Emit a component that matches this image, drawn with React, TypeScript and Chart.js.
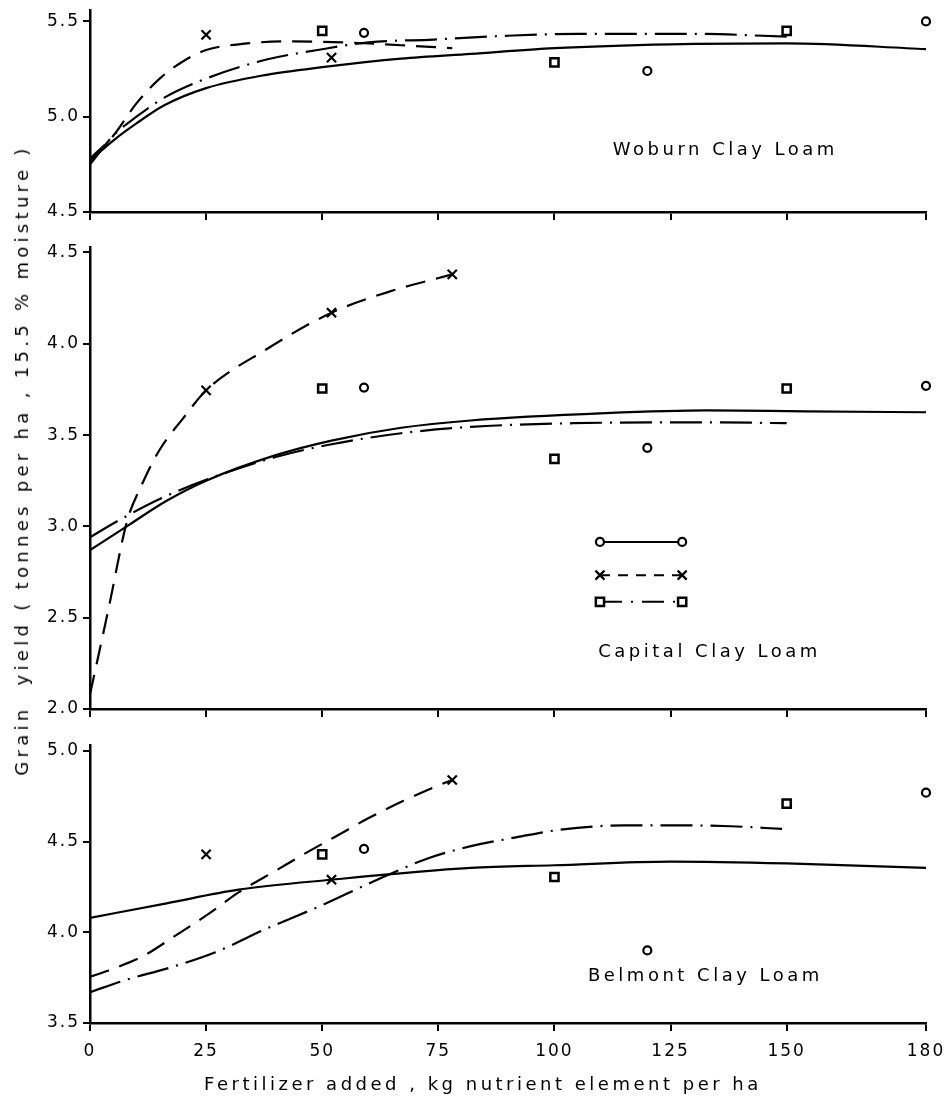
import React, { useEffect, useRef } from "react";
import { Chart, registerables } from "chart.js";
Chart.register(...registerables);

const FONT = '"DejaVu Sans", sans-serif';

// ---------- shared x axis ----------
const X_TICKS = [0, 25, 50, 75, 100, 125, 150, 180];
const X_TICK_LABELS = ["0", "25", "50", "75", "100", "125", "150", "180"];

// ---------- Woburn Clay Loam ----------
const woburnYTicks = [4.5, 5.0, 5.5];
const woburnCircleX = [59, 120, 180];
const woburnCircleY = [5.44, 5.24, 5.5];
const woburnCrossX = [25, 52];
const woburnCrossY = [5.43, 5.31];
const woburnSquareX = [50, 100, 150];
const woburnSquareY = [5.45, 5.285, 5.45];
const woburnSolidX = [0, 5, 10, 16, 25, 38, 50, 67, 82, 100, 125, 150, 180];
const woburnSolidY = [4.77, 4.875, 4.965, 5.06, 5.15, 5.22, 5.26, 5.305, 5.33, 5.36, 5.38, 5.385, 5.355];
const woburnDashX = [0, 5, 10, 15, 20, 25, 32, 42, 55, 67, 78];
const woburnDashY = [4.78, 4.9, 5.07, 5.2, 5.29, 5.35, 5.38, 5.395, 5.39, 5.375, 5.36];
const woburnDashDotX = [0, 5, 10, 16, 25, 38, 49, 60, 74, 90, 105, 130, 150];
const woburnDashDotY = [4.75, 4.9, 5.0, 5.1, 5.2, 5.3, 5.35, 5.39, 5.405, 5.425, 5.435, 5.435, 5.42];

// ---------- Capital Clay Loam ----------
const capitalYTicks = [2.0, 2.5, 3.0, 3.5, 4.0, 4.5];
const capitalCircleX = [59, 120, 180];
const capitalCircleY = [3.76, 3.43, 3.77];
const capitalCrossX = [25, 52, 78];
const capitalCrossY = [3.745, 4.17, 4.38];
const capitalSquareX = [50, 100, 150];
const capitalSquareY = [3.755, 3.37, 3.755];
const capitalSolidX = [0, 8.5, 16.5, 25, 40, 52, 67, 82, 111, 133, 154, 180];
const capitalSolidY = [2.87, 3.01, 3.14, 3.25, 3.39, 3.47, 3.54, 3.58, 3.62, 3.635, 3.63, 3.625];
const capitalDashX = [0, 4, 8, 11, 15, 20, 25, 38, 52, 65, 78];
const capitalDashY = [2.08, 2.55, 3.03, 3.22, 3.42, 3.59, 3.745, 3.97, 4.17, 4.29, 4.38];
const capitalDashDotX = [0, 6, 15, 25, 40, 52, 67, 82, 104, 133, 150];
const capitalDashDotY = [2.94, 3.03, 3.15, 3.255, 3.38, 3.45, 3.51, 3.545, 3.565, 3.57, 3.565];

// ---------- Belmont Clay Loam ----------
const belmontYTicks = [3.5, 4.0, 4.5, 5.0];
const belmontCircleX = [59, 120, 180];
const belmontCircleY = [4.46, 3.9, 4.77];
const belmontCrossX = [25, 52, 78];
const belmontCrossY = [4.43, 4.29, 4.84];
const belmontSquareX = [50, 100, 150];
const belmontSquareY = [4.43, 4.305, 4.71];
const belmontSolidX = [0, 16.5, 32, 52, 82, 100, 125, 150, 180];
const belmontSolidY = [4.08, 4.16, 4.235, 4.29, 4.355, 4.37, 4.39, 4.38, 4.355];
const belmontDashX = [0, 4, 11.5, 18, 26, 32, 40, 47, 53, 60, 67.5, 75, 78];
const belmontDashY = [3.755, 3.79, 3.87, 3.975, 4.11, 4.22, 4.34, 4.445, 4.53, 4.63, 4.725, 4.81, 4.84];
const belmontDashDotX = [0, 8, 16.5, 27, 38, 50, 61, 73, 82, 92, 101, 115, 126, 138, 149];
const belmontDashDotY = [3.67, 3.74, 3.8, 3.89, 4.02, 4.15, 4.28, 4.41, 4.475, 4.525, 4.565, 4.59, 4.59, 4.585, 4.57];

// ---------- styles ----------
const DASH = [20, 11];
const DASHDOT = [32, 8, 2, 8];
const LINE_W = 2.2;

const pts = (xs: number[], ys: number[]) => xs.map((x, i) => ({ x, y: ys[i] }));

const curve = (xs: number[], ys: number[], dash: number[]) => ({
  type: "line",
  data: pts(xs, ys),
  borderColor: "#000",
  borderWidth: LINE_W,
  borderDash: dash,
  pointRadius: 0,
  cubicInterpolationMode: "monotone",
  fill: false,
  showLine: true,
});

const markers = (xs: number[], ys: number[], style: string) => ({
  type: "line",
  data: pts(xs, ys),
  showLine: false,
  pointStyle: style,
  pointRadius: style === "circle" ? 4 : style === "rect" ? 5.8 : 6.5,
  pointBorderWidth: style === "rect" ? 2.5 : 2.2,
  pointBorderColor: "#000",
  pointBackgroundColor: "#fff",
  borderColor: "#000",
  backgroundColor: "#fff",
  clip: false,
});

const panelDatasets = (
  solid: [number[], number[]],
  dash: [number[], number[]],
  dashdot: [number[], number[]],
  circ: [number[], number[]],
  cross: [number[], number[]],
  sq: [number[], number[]]
) => [
  curve(solid[0], solid[1], []),
  curve(dash[0], dash[1], DASH),
  curve(dashdot[0], dashdot[1], DASHDOT),
  markers(circ[0], circ[1], "circle"),
  markers(cross[0], cross[1], "crossRot"),
  markers(sq[0], sq[1], "rect"),
];

function drawMarker(ctx: CanvasRenderingContext2D, kind: string, x: number, y: number) {
  ctx.save();
  ctx.setLineDash([]);
  ctx.strokeStyle = "#000";
  ctx.fillStyle = "#fff";
  ctx.beginPath();
  if (kind === "circle") {
    ctx.lineWidth = 2.2;
    ctx.arc(x, y, 4, 0, Math.PI * 2);
    ctx.fill();
    ctx.stroke();
  } else if (kind === "rect") {
    ctx.lineWidth = 2.5;
    ctx.rect(x - 4.1, y - 4.1, 8.2, 8.2);
    ctx.fill();
    ctx.stroke();
  } else {
    ctx.lineWidth = 2.2;
    const d = 4.5;
    ctx.moveTo(x - d, y - d);
    ctx.lineTo(x + d, y + d);
    ctx.moveTo(x + d, y - d);
    ctx.lineTo(x - d, y + d);
    ctx.stroke();
  }
  ctx.restore();
}

const textPlugin = {
  id: "panelText",
  beforeDraw(chart: any) {
    chart.ctx.letterSpacing = "2px";
  },
  afterDatasetsDraw(chart: any, _args: any, opts: any) {
    const ctx: CanvasRenderingContext2D = chart.ctx;
    const xs = chart.scales.x;
    const ys = chart.scales.y;
    ctx.save();
    ctx.fillStyle = "#000";
    ctx.font = `18px ${FONT}`;
    (ctx as any).letterSpacing = "3.5px";
    ctx.textAlign = "center";
    ctx.textBaseline = "middle";
    if (opts.label) {
      ctx.fillText(opts.label, xs.getPixelForValue(opts.labelX), ys.getPixelForValue(opts.labelY));
    }
    if (opts.xTitle) {
      ctx.fillText(opts.xTitle, xs.getPixelForValue(opts.xTitleX), chart.chartArea.bottom + opts.xTitleOffset);
    }
    if (opts.legend) {
      const { x1, x2, rows } = opts.legend;
      const px1 = xs.getPixelForValue(x1);
      const px2 = xs.getPixelForValue(x2);
      rows.forEach((r: any) => {
        const py = ys.getPixelForValue(r.y);
        ctx.save();
        ctx.strokeStyle = "#000";
        ctx.lineWidth = 2;
        ctx.setLineDash(r.dash);
        ctx.beginPath();
        ctx.moveTo(px1, py);
        ctx.lineTo(px2, py);
        ctx.stroke();
        ctx.restore();
        drawMarker(ctx, r.marker, px1, py);
        drawMarker(ctx, r.marker, px2, py);
      });
    }
    ctx.restore();
  },
};

type PanelCfg = {
  top: number;
  height: number;
  padTop: number;
  xAxisHeight: number;
  yMin: number;
  yMax: number;
  yTicks: number[];
  showXLabels: boolean;
  datasets: any[];
  text: any;
};

const panels: PanelCfg[] = [
  {
    top: 0,
    height: 232,
    padTop: 10,
    xAxisHeight: 20,
    yMin: 4.5,
    yMax: 5.56,
    yTicks: woburnYTicks,
    showXLabels: false,
    datasets: panelDatasets(
      [woburnSolidX, woburnSolidY],
      [woburnDashX, woburnDashY],
      [woburnDashDotX, woburnDashDotY],
      [woburnCircleX, woburnCircleY],
      [woburnCrossX, woburnCrossY],
      [woburnSquareX, woburnSquareY]
    ),
    text: { label: "Woburn Clay Loam", labelX: 136.8, labelY: 4.825 },
  },
  {
    top: 232,
    height: 495,
    padTop: 15,
    xAxisHeight: 18,
    yMin: 2.0,
    yMax: 4.53,
    yTicks: capitalYTicks,
    showXLabels: false,
    datasets: panelDatasets(
      [capitalSolidX, capitalSolidY],
      [capitalDashX, capitalDashY],
      [capitalDashDotX, capitalDashDotY],
      [capitalCircleX, capitalCircleY],
      [capitalCrossX, capitalCrossY],
      [capitalSquareX, capitalSquareY]
    ),
    text: {
      label: "Capital Clay Loam",
      labelX: 133.4,
      labelY: 2.312,
      legend: {
        x1: 109.8,
        x2: 127.5,
        rows: [
          { y: 2.915, dash: [], marker: "circle" },
          { y: 2.733, dash: [10, 8], marker: "cross" },
          { y: 2.587, dash: [22, 9, 2, 9], marker: "rect" },
        ],
      },
    },
  },
  {
    top: 727,
    height: 378,
    padTop: 18,
    xAxisHeight: 82,
    yMin: 3.5,
    yMax: 5.033,
    yTicks: belmontYTicks,
    showXLabels: true,
    datasets: panelDatasets(
      [belmontSolidX, belmontSolidY],
      [belmontDashX, belmontDashY],
      [belmontDashDotX, belmontDashDotY],
      [belmontCircleX, belmontCircleY],
      [belmontCrossX, belmontCrossY],
      [belmontSquareX, belmontSquareY]
    ),
    text: {
      label: "Belmont Clay Loam",
      labelX: 132.5,
      labelY: 3.759,
      xTitle: "Fertilizer added , kg nutrient element per ha",
      xTitleX: 84.6,
      xTitleOffset: 62,
    },
  },
];

function Panel({ cfg }: { cfg: PanelCfg }) {
  const ref = useRef<HTMLCanvasElement | null>(null);
  useEffect(() => {
    if (!ref.current) return;
    const chart = new Chart(ref.current, {
      type: "line",
      data: { datasets: cfg.datasets as any },
      plugins: [textPlugin as any],
      options: {
        animation: false,
        responsive: false,
        maintainAspectRatio: false,
        events: [],
        layout: { padding: { top: cfg.padTop, right: 20, bottom: 0, left: 0 } },
        plugins: {
          legend: { display: false },
          tooltip: { enabled: false },
          panelText: cfg.text,
        } as any,
        scales: {
          x: {
            type: "linear",
            min: 0,
            max: 180,
            afterBuildTicks: (s: any) => {
              s.ticks = X_TICKS.map((v) => ({ value: v }));
            },
            afterFit: (s: any) => {
              s.height = cfg.xAxisHeight;
              s.paddingLeft = 0;
              s.paddingRight = 0;
            },
            ticks: {
              display: cfg.showXLabels,
              autoSkip: false,
              maxRotation: 0,
              color: "#000",
              padding: 10,
              font: { family: FONT, size: 17 },
              callback: (_v: any, i: number) => X_TICK_LABELS[i],
            },
            grid: {
              display: true,
              drawOnChartArea: false,
              drawTicks: true,
              tickLength: 8,
              color: "#000",
              lineWidth: 2,
            },
            border: { display: true, color: "#000", width: 2.5 },
          },
          y: {
            type: "linear",
            min: cfg.yMin,
            max: cfg.yMax,
            afterBuildTicks: (s: any) => {
              s.ticks = cfg.yTicks.map((v) => ({ value: v }));
            },
            afterFit: (s: any) => {
              s.width = 90;
              s.paddingTop = 0;
              s.paddingBottom = 0;
            },
            ticks: {
              color: "#000",
              padding: 3,
              font: { family: FONT, size: 17 },
              callback: (v: any) => Number(v).toFixed(1),
            },
            grid: {
              display: true,
              drawOnChartArea: false,
              drawTicks: true,
              tickLength: 7,
              color: "#000",
              lineWidth: 2,
            },
            border: { display: true, color: "#000", width: 2.5 },
          },
        },
      } as any,
    });
    return () => chart.destroy();
  }, [cfg]);
  return (
    <canvas
      ref={ref}
      width={946}
      height={cfg.height}
      style={{ position: "absolute", left: 0, top: cfg.top, width: 946, height: cfg.height }}
    />
  );
}

export default function App() {
  return (
    <div
      style={{
        position: "absolute",
        left: 0,
        top: 0,
        width: 946,
        height: 1105,
        background: "#fff",
        overflow: "hidden",
      }}
    >
      {panels.map((p, i) => (
        <Panel key={i} cfg={p} />
      ))}
      <div
        style={{
          position: "absolute",
          left: 22,
          top: 460,
          transform: "translate(-50%, -50%) rotate(-90deg)",
          whiteSpace: "nowrap",
          fontFamily: FONT,
          fontSize: 18,
          letterSpacing: "4.3px",
          color: "#000",
          lineHeight: 1,
        }}
      >
        Grain&nbsp; yield ( tonnes per ha , 15.5 % moisture )
      </div>
    </div>
  );
}
